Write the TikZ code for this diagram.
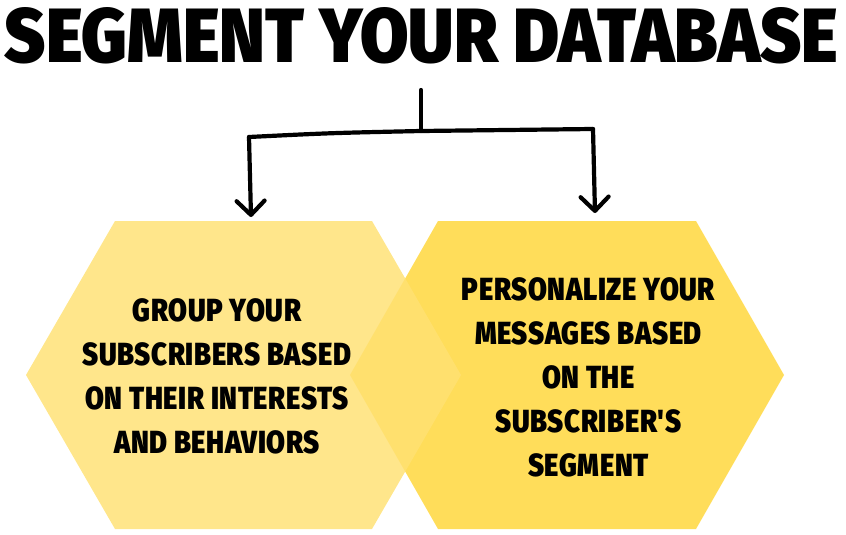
\documentclass[tikz,border=0pt]{standalone}
\usepackage{fontspec}
\usetikzlibrary{arrows.meta}
\newfontfamily\titlefont{Fira Sans Black}
\newfontfamily\bodyfont{Fira Sans Black}[FakeStretch=0.855, LetterSpace=2]
\definecolor{hexlight}{HTML}{FFE173}
\definecolor{hexdark}{HTML}{FFDD5A}
\tikzset{
  hexleft/.style={fill=hexlight, fill opacity=0.83, draw=none},
  hexright/.style={fill=hexdark, draw=none},
  bodytext/.style={align=center, inner sep=0pt, text=black,
    font=\bodyfont\fontsize{32}{44}\selectfont},
  conn/.style={line width=4.2pt, line cap=round, line join=round, black},
  arr/.style={conn, -{Straight Barb[length=14pt,width=28pt,round]}}
}
\begin{document}
\begin{tikzpicture}[x=1pt,y=-1pt]
\useasboundingbox (0,0) rectangle (846,535);
% hexagons
\fill[hexright] (350,375) -- (438,221) -- (696,221) -- (784,375) -- (696,529) -- (438,529) -- cycle;
\fill[hexleft] (26,375) -- (115,221) -- (372,221) -- (461,375) -- (372,529) -- (115,529) -- cycle;
% title
\node[inner sep=0pt] (title) at (421.5,35.5) {\resizebox{833pt}{55pt}{\titlefont SEGMENT YOUR DATABASE}};
% texts
\node[bodytext] (lefttext) at (217,376.5) {GROUP YOUR\\SUBSCRIBERS BASED\\ON THEIR INTERESTS\\AND BEHAVIORS};
\node[bodytext] (righttext) at (588.5,377) {PERSONALIZE YOUR\\MESSAGES BASED\\ON THE\\SUBSCRIBER'S\\SEGMENT};
% connectors
\coordinate (stemtop) at (421,90);
\coordinate (junction) at (421,131);
\coordinate (leftcorner) at (249,137);
\coordinate (rightcorner) at (593,129);
\coordinate (lefttip) at (251,217);
\coordinate (righttip) at (595,213);
\draw[conn] (stemtop) -- (junction);
\draw[conn] (leftcorner) .. controls (330,133) .. (junction) -- (rightcorner);
\draw[arr] (leftcorner) -- (lefttip);
\draw[arr] (rightcorner) -- (righttip);
\end{tikzpicture}
\end{document}
